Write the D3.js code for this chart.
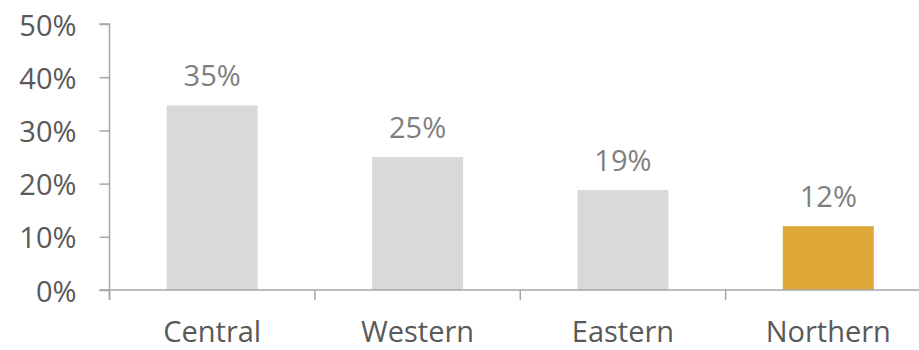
<!DOCTYPE html>
<html>
<head>
<meta charset="utf-8">
<script src="https://cdn.jsdelivr.net/npm/d3@7"></script>
<style>
  html, body { margin: 0; padding: 0; background: #fff; }
  svg { display: block; font-family: "Open Sans", "Noto Sans", sans-serif; }
</style>
</head>
<body>
<svg id="chart" width="919" height="350"></svg>
<script>
const categories = ["Central", "Western", "Eastern", "Northern"];
const values = [0.347, 0.25, 0.188, 0.12];
const barColors = ["#d9d9d9", "#d9d9d9", "#d9d9d9", "#dea838"];
const yTicks = [0, 0.1, 0.2, 0.3, 0.4, 0.5];

const svg = d3.select("#chart");
const plotLeft = 109.5, plotRight = 931, plotTop = 24, plotBottom = 290;
const fontSize = 29;

const xBand = d3.scaleBand().domain(categories).range([plotLeft, plotRight]).paddingInner(0.557).paddingOuter(0.2785);
const xGroup = d3.scaleBand().domain(categories).range([plotLeft, plotRight]).padding(0);
const y = d3.scaleLinear().domain([0, 0.5]).range([plotBottom, plotTop]);

const axisColor = "#a6a6a6";
const fmt = d3.format(".0%");

// bars
svg.append("g").selectAll("rect").data(categories).join("rect")
  .attr("x", d => xBand(d))
  .attr("width", xBand.bandwidth())
  .attr("y", (d, i) => y(values[i]))
  .attr("height", (d, i) => y(0) - y(values[i]))
  .attr("fill", (d, i) => barColors[i]);

// value labels
svg.append("g").selectAll("text").data(categories).join("text")
  .attr("x", d => xBand(d) + xBand.bandwidth() / 2)
  .attr("y", (d, i) => y(values[i]) - 19)
  .attr("text-anchor", "middle")
  .attr("font-size", fontSize)
  .attr("fill", "#7f7f7f")
  .text((d, i) => fmt(values[i]));

// y axis
const yAxis = svg.append("g").attr("transform", `translate(${plotLeft},0)`)
  .call(d3.axisLeft(y).tickValues(yTicks).tickFormat(fmt).tickSize(10).tickPadding(23));
yAxis.select(".domain").attr("stroke", axisColor).attr("stroke-width", 1.5)
  .attr("d", `M-10,${plotTop}H0V${plotBottom + 10}`);
yAxis.selectAll(".tick line").attr("stroke", axisColor).attr("stroke-width", 1.5);
yAxis.selectAll(".tick text").attr("font-size", fontSize).attr("fill", "#595959")
  .attr("dy", "0.38em")
  .attr("font-family", "Open Sans, sans-serif");

// x axis
const xAxis = svg.append("g").attr("transform", `translate(0,${plotBottom})`);
xAxis.append("line").attr("x1", plotLeft - 10).attr("x2", 919).attr("y1", 0).attr("y2", 0)
  .attr("stroke", axisColor).attr("stroke-width", 1.5);
const bounds = categories.map(c => xGroup(c)).concat([xGroup(categories[categories.length - 1]) + xGroup.bandwidth()]);
xAxis.selectAll("line.tk").data(bounds).join("line").attr("class", "tk")
  .attr("x1", d => d).attr("x2", d => d).attr("y1", 0).attr("y2", 10)
  .attr("stroke", axisColor).attr("stroke-width", 1.5);
xAxis.selectAll("text").data(categories).join("text")
  .attr("x", d => xGroup(d) + xGroup.bandwidth() / 2)
  .attr("y", 52)
  .attr("text-anchor", "middle")
  .attr("font-size", fontSize)
  .attr("fill", "#595959")
  .text(d => d);
</script>
</body>
</html>
